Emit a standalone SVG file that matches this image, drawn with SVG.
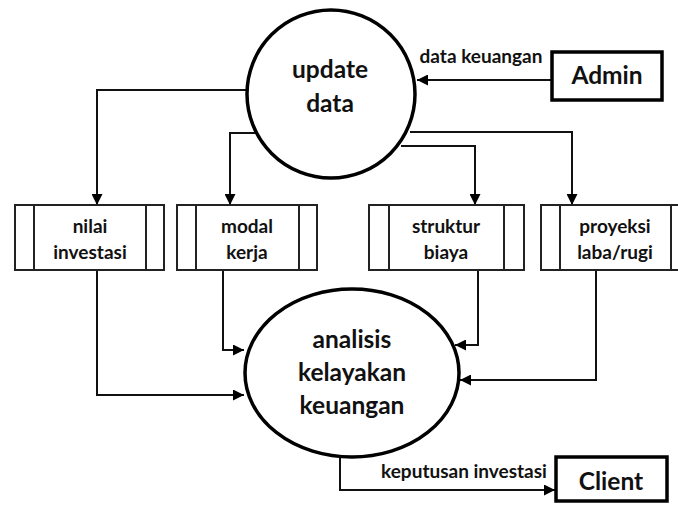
<svg xmlns="http://www.w3.org/2000/svg" width="678" height="505" viewBox="0 0 678 505">
  <style>
    text { font-family: Lato, "Open Sans", "Liberation Sans", sans-serif; font-weight: bold; fill: #111; text-anchor: middle; }
    .big { font-size: 24.5px; }
    .mid { font-size: 19px; }
    .lbl { font-size: 19px; }
    .proc { fill: #fff; stroke: #000; stroke-width: 3.5; }
    .ext { fill: #fff; stroke: #000; stroke-width: 3.5; }
    .store { fill: #fff; stroke: #222; stroke-width: 2; }
    .flow { fill: none; stroke: #111; stroke-width: 2; marker-end: url(#arrow); }
  </style>
  <defs>
    <marker id="arrow" viewBox="0 0 10 10" refX="10" refY="5" markerWidth="11" markerHeight="11" markerUnits="userSpaceOnUse" orient="auto">
      <path d="M0,0 L10,5 L0,10 z" fill="#000"/>
    </marker>
  </defs>
  <rect width="678" height="505" fill="#fff"/>

  <!-- data flows -->
  <g id="connectors">
    <path class="flow" d="M552,80 H417"/>
    <path class="flow" d="M247,90 H97 V205"/>
    <path class="flow" d="M256,133 H230 V205"/>
    <path class="flow" d="M410,132 H572 V205"/>
    <path class="flow" d="M401,146 H475 V205"/>
    <path class="flow" d="M97,270 V395 H244"/>
    <path class="flow" d="M223,270 V350 H244"/>
    <path class="flow" d="M478,270 V345 H455"/>
    <path class="flow" d="M596,270 V380 H460"/>
    <path class="flow" d="M340,457 V490 H555"/>
    <text class="lbl" x="481" y="63">data keuangan</text>
    <text class="lbl" x="464" y="478">keputusan investasi</text>
  </g>

  <!-- processes -->
  <g id="update-data">
    <circle class="proc" cx="331" cy="94" r="84"/>
    <text class="big" x="330" y="78">update</text>
    <text class="big" x="330" y="112">data</text>
  </g>
  <g id="analisis-kelayakan-keuangan">
    <ellipse class="proc" cx="352" cy="373" rx="107" ry="84"/>
    <text class="big" x="352" y="348">analisis</text>
    <text class="big" x="352" y="381">kelayakan</text>
    <text class="big" x="352" y="414">keuangan</text>
  </g>

  <!-- external entities -->
  <g id="admin">
    <rect class="ext" x="552" y="52" width="110" height="48"/>
    <text class="big" x="607" y="84">Admin</text>
  </g>
  <g id="client">
    <rect class="ext" x="556" y="457" width="111" height="44"/>
    <text class="big" x="611" y="490">Client</text>
  </g>

  <!-- data stores -->
  <g id="nilai-investasi">
    <rect class="store" x="15" y="205" width="149" height="65"/>
    <path class="store" d="M34,205 V270 M146,205 V270"/>
    <text class="mid" x="90" y="233">nilai</text>
    <text class="mid" x="90" y="259">investasi</text>
  </g>
  <g id="modal-kerja">
    <rect class="store" x="177" y="205" width="140" height="65"/>
    <path class="store" d="M196,205 V270 M299,205 V270"/>
    <text class="mid" x="247" y="233">modal</text>
    <text class="mid" x="247" y="259">kerja</text>
  </g>
  <g id="struktur-biaya">
    <rect class="store" x="369" y="205" width="155" height="65"/>
    <path class="store" d="M389,205 V270 M504,205 V270"/>
    <text class="mid" x="446" y="233">struktur</text>
    <text class="mid" x="446" y="259">biaya</text>
  </g>
  <g id="proyeksi-laba-rugi">
    <rect class="store" x="541" y="205" width="150" height="65"/>
    <path class="store" d="M560,205 V270 M671,205 V270"/>
    <text class="mid" x="615" y="233">proyeksi</text>
    <text class="mid" x="615" y="259">laba/rugi</text>
  </g>
</svg>
